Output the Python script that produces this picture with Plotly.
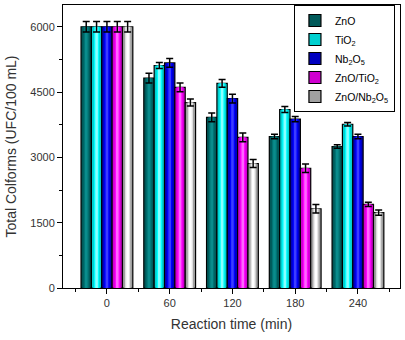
import plotly.graph_objects as go

categories = ["0", "60", "120", "180", "240"]
series_names = ["ZnO", "TiO<sub>2</sub>", "Nb<sub>2</sub>O<sub>5</sub>",
                "ZnO/TiO<sub>2</sub>", "ZnO/Nb<sub>2</sub>O<sub>5</sub>"]

zno = [6000, 4820, 3920, 3480, 3250]
tio2 = [6000, 5110, 4700, 4100, 3760]
nb2o5 = [6000, 5170, 4350, 3880, 3480]
zno_tio2 = [6000, 4610, 3460, 2750, 1920]
zno_nb2o5 = [6000, 4260, 2860, 1820, 1730]

zno_err = [120, 110, 100, 50, 40]
tio2_err = [120, 70, 90, 70, 40]
nb2o5_err = [120, 100, 100, 60, 50]
zno_tio2_err = [120, 100, 100, 100, 50]
zno_nb2o5_err = [120, 80, 90, 100, 60]

values = [zno, tio2, nb2o5, zno_tio2, zno_nb2o5]
errors = [zno_err, tio2_err, nb2o5_err, zno_tio2_err, zno_nb2o5_err]

# gradient shades per series: outer -> inner
shades = [
    ["#003a3a", "#005a5a", "#007474", "#0a8c8c"],
    ["#008888", "#00d0d0", "#00ffff", "#8affff"],
    ["#000070", "#0000c0", "#0000ff", "#3c3cff"],
    ["#800080", "#d000d0", "#ff00ff", "#ff66ff"],
    ["#404040", "#a0a0a0", "#e0e0e0", "#ffffff"],
]
level_widths = [1.0, 0.75, 0.5, 0.25]

x = list(range(len(categories)))
bw = 0.165

fig = go.Figure()
for i, (name, vals, errs, cols) in enumerate(zip(series_names, values, errors, shades)):
    center = (i - 2) * bw
    for j, (wf, col) in enumerate(zip(level_widths, cols)):
        w = bw * wf
        last = j == len(level_widths) - 1
        fig.add_trace(go.Bar(
            x=x, y=vals, name=name,
            width=w, offset=center - w / 2,
            marker=dict(color=col if j else cols[1],
                        line=dict(color="black", width=1.2 if j == 0 else 0)),
            showlegend=(j == 0), legendgroup=name,
            error_y=dict(type="data", array=errs, visible=last,
                         color="black", thickness=1.5, width=3.5),
        ))

font_fam = "Liberation Sans, Arial, sans-serif"
fig.update_layout(
    width=405, height=340,
    margin=dict(l=63, r=5, t=5, b=52),
    barmode="overlay",
    paper_bgcolor="white", plot_bgcolor="white",
    font=dict(family=font_fam, size=11, color="#333333"),
    legend=dict(x=0.985, y=1.0, xanchor="right", yanchor="top",
                bordercolor="black", borderwidth=1, bgcolor="white",
                font=dict(size=10.5, color="black"),
                tracegroupgap=0, itemwidth=30),
    xaxis=dict(
        range=[-0.7, 4.67], tickvals=x, ticktext=categories,
        showline=True, linecolor="black", linewidth=1, mirror=True,
        ticks="outside", ticklen=5, tickcolor="black",
        minor=dict(tickvals=[-0.5, 0.5, 1.5, 2.5, 3.5, 4.5], ticks="outside",
                   ticklen=3, tickcolor="black"),
        showgrid=False, zeroline=False, automargin=False,
        title=dict(text="Reaction time (min)", font=dict(size=14, color="#333333"),
                   standoff=10),
        tickfont=dict(size=11),
    ),
    yaxis=dict(
        range=[0, 6500], tickvals=[0, 1500, 3000, 4500, 6000],
        showline=True, linecolor="black", linewidth=1, mirror=True,
        ticks="outside", ticklen=5, tickcolor="black",
        minor=dict(dtick=750, ticks="outside", ticklen=3, tickcolor="black"),
        showgrid=False, zeroline=False, automargin=False,
        title=dict(text="Total Colforms (UFC/100 mL)", font=dict(size=14, color="#333333"),
                   standoff=10),
        tickfont=dict(size=11),
    ),
)

fig.write_html("out.html", config={"displayModeBar": False},
               post_script="document.body.style.margin='0';")
